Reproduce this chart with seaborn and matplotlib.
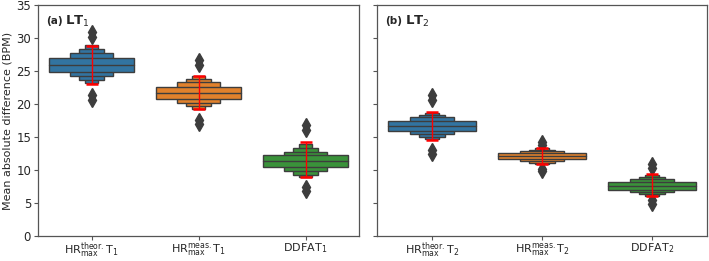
import numpy as np
import seaborn as sns
import matplotlib.pyplot as plt

sns.set_theme(style="ticks", font="DejaVu Sans")
plt.rcParams["mathtext.default"] = "regular"

# %% data (letter values, mean +/- sd, outliers)
labels_a = [r"HR$_{max}^{theor.}$T$_1$", r"HR$_{max}^{meas.}$T$_1$", r"DDFAT$_1$"]
labels_b = [r"HR$_{max}^{theor.}$T$_2$", r"HR$_{max}^{meas.}$T$_2$", r"DDFAT$_2$"]

median_a = [25.9, 21.7, 11.3]
lv_low_a = [[24.8, 24.2, 23.7, 23.2], [20.8, 20.2, 19.7, 19.3], [10.4, 9.8, 9.3, 8.9]]
lv_high_a = [[27.0, 27.7, 28.3, 28.9], [22.6, 23.3, 23.8, 24.2], [12.2, 12.8, 13.4, 13.9]]
err_low_a = [23.0, 19.2, 9.0]
err_high_a = [28.8, 24.3, 14.2]
outliers_a = [[30.9, 30.2, 21.3, 20.6], [26.6, 25.9, 17.6, 16.9], [16.8, 16.0, 7.4, 6.8]]

median_b = [16.7, 12.1, 7.6]
lv_low_b = [[15.9, 15.4, 15.0, 14.7], [11.6, 11.3, 11.0, 10.9], [7.0, 6.6, 6.3, 6.1]]
lv_high_b = [[17.5, 18.0, 18.4, 18.7], [12.6, 12.9, 13.1, 13.3], [8.2, 8.6, 9.0, 9.3]]
err_low_b = [14.6, 10.9, 6.1]
err_high_b = [18.8, 13.4, 9.4]
outliers_b = [[21.3, 20.6, 13.1, 12.5], [14.3, 13.8, 10.2, 9.8], [10.9, 10.3, 5.4, 4.8]]

colors = ["#3274a1", "#e1812c", "#3a923a"]
widths = [0.8, 0.4, 0.24, 0.12]

# %%
fig = plt.figure(figsize=(7.09, 2.61), dpi=100)
ax_a = fig.add_axes([38 / 709, 25 / 261, 321 / 709, 231 / 261])
ax_b = fig.add_axes([377 / 709, 25 / 261, 330 / 709, 231 / 261], sharey=ax_a)


def letter_value_panel(ax, labels, median, lv_low, lv_high, err_low, err_high, outliers):
    pos = np.arange(len(labels))
    for i in pos:
        # outer (narrow) boxes behind, widest box on top
        for k in range(len(widths) - 1, -1, -1):
            ax.bar(i, lv_high[i][k] - lv_low[i][k], bottom=lv_low[i][k], width=widths[k],
                   color=colors[i], edgecolor="#3d3d3d", linewidth=1.0, zorder=2 + (4 - k))
        ax.plot([i - widths[0] / 2, i + widths[0] / 2], [median[i], median[i]],
                color="#3d3d3d", lw=1.0, zorder=8)
        ax.plot([i] * len(outliers[i]), outliers[i], "d", color="#3d3d3d",
                ms=7, mec="#3d3d3d", zorder=3)
    mean = (np.array(err_low) + np.array(err_high)) / 2
    ax.errorbar(pos, mean, yerr=[mean - np.array(err_low), np.array(err_high) - mean],
                fmt="none", ecolor="red", elinewidth=1.0, capsize=4, capthick=1.8, zorder=9)
    ax.set_xticks(pos)
    ax.set_xticklabels(labels, fontsize=8)
    ax.set_xlim(-0.5, 2.5)
    for s in ax.spines.values():
        s.set_color("#555555")
        s.set_linewidth(0.9)
    ax.tick_params(length=3, width=0.8, color="#555555", labelsize=8.5, pad=2)
    ax.tick_params(axis="x", labelsize=8, pad=0.5)


letter_value_panel(ax_a, labels_a, median_a, lv_low_a, lv_high_a, err_low_a, err_high_a, outliers_a)
letter_value_panel(ax_b, labels_b, median_b, lv_low_b, lv_high_b, err_low_b, err_high_b, outliers_b)

ax_a.set_ylim(0, 35)
ax_a.set_yticks(np.arange(0, 36, 5))
ax_a.set_ylabel("Mean absolute difference (BPM)", fontsize=8, labelpad=3)
plt.setp(ax_b.get_yticklabels(), visible=False)

for ax, tag, sub in [(ax_a, "(a)", "1"), (ax_b, "(b)", "2")]:
    ax.text(0.025, 0.93, tag, transform=ax.transAxes, fontsize=7.5, fontweight="bold", va="center")
    ax.text(0.085, 0.93, r"$\mathbf{LT}_{%s}$" % sub, transform=ax.transAxes, fontsize=9.5, va="center")

fig.savefig("out.png", dpi=100)
